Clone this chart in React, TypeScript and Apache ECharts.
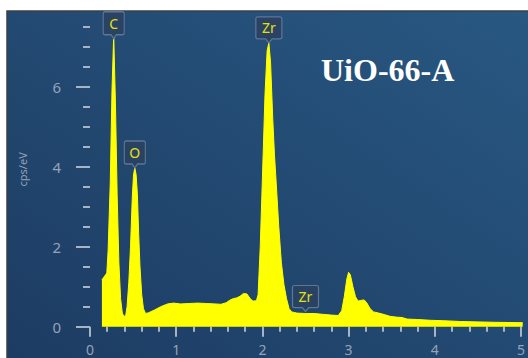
import React, { useEffect, useRef } from "react";
import * as echarts from "echarts";

// Spectrum: energy (keV) and count rate (cps/eV)
const energy: number[] = [
  0.138, 0.195, 0.21, 0.235, 0.255, 0.275, 0.295, 0.315, 0.335, 0.355, 0.375, 0.395,
  0.415, 0.43, 0.45, 0.47, 0.49, 0.505, 0.52, 0.535, 0.55, 0.565, 0.58, 0.6, 0.62, 0.645,
  0.68, 0.75, 0.82, 0.9, 0.97, 1.05, 1.15, 1.25, 1.35, 1.45, 1.52, 1.58, 1.62, 1.66, 1.7,
  1.74, 1.78, 1.82, 1.86, 1.89, 1.93, 1.95, 1.975, 2.0, 2.03, 2.055, 2.075, 2.095, 2.12,
  2.14, 2.16, 2.19, 2.22, 2.25, 2.28, 2.31, 2.34, 2.4, 2.5, 2.6, 2.7, 2.8, 2.88, 2.92,
  2.95, 2.98, 3.0, 3.02, 3.05, 3.08, 3.11, 3.15, 3.18, 3.21, 3.25, 3.29, 3.35, 3.42, 3.48,
  3.55, 3.62, 3.68, 3.8, 3.95, 4.1, 4.3, 4.5, 4.7, 5.02,
];
const counts: number[] = [
  1.17, 1.34, 1.9, 3.6, 5.9, 7.3, 5.6, 3.3, 1.6, 0.7, 0.34, 0.25,
  0.3, 0.5, 1.1, 2.0, 3.2, 3.8, 3.97, 3.8, 3.3, 2.3, 1.5, 0.8, 0.45, 0.33,
  0.35, 0.42, 0.5, 0.57, 0.59, 0.57, 0.58, 0.59, 0.58, 0.57, 0.56, 0.6, 0.66, 0.7, 0.72,
  0.76, 0.83, 0.82, 0.7, 0.64, 0.65, 0.8, 2.0, 3.7, 5.8, 6.9, 7.1, 6.6, 5.2,
  4.3, 3.6, 2.5, 1.6, 1.05, 0.7, 0.45, 0.37, 0.34, 0.33, 0.33, 0.31, 0.29, 0.28, 0.4,
  0.75, 1.2, 1.36, 1.3, 1.0, 0.75, 0.64, 0.66, 0.67, 0.6, 0.45, 0.37, 0.34, 0.3, 0.26,
  0.24, 0.23, 0.19, 0.18, 0.16, 0.15, 0.13, 0.12, 0.11, 0.1,
];

// Element markers: name, energy, height of the marker tip
const peakNames: string[] = ["C", "O", "Zr", "Zr"];
const peakEnergy: number[] = [0.275, 0.52, 2.075, 2.5];
const peakHeight: number[] = [7.2, 3.97, 7.1, 0.38];

const xMajorTicks: number[] = [0, 1, 2, 3, 4, 5];
const xMinorTicks: number[] = [
  0.2, 0.4, 0.6, 0.8, 1.2, 1.4, 1.6, 1.8, 2.2, 2.4, 2.6, 2.8,
  3.2, 3.4, 3.6, 3.8, 4.2, 4.4, 4.6, 4.8,
];
const yMajorTicks: number[] = [0, 2, 4, 6];
const yMinorTicks: number[] = [0.5, 1, 1.5, 2.5, 3, 3.5, 4.5, 5, 5.5, 6.5, 7, 7.5];

const TITLE = "UiO-66-A";
const Y_NAME = "cps/eV";

const tickColor = "#a6b4c6";
const labelColor = "#93a3b9";
const sansFont = "'Noto Sans', 'DejaVu Sans', sans-serif";
const calloutPath =
  "path://M2,0 H22 Q24,0 24,2 V21 Q24,23 22,23 H15 L12,27 L9,23 H2 Q0,23 0,21 V2 Q0,0 2,0 Z";

export default function App() {
  const ref = useRef<HTMLDivElement>(null);

  useEffect(() => {
    if (!ref.current) return;
    const chart = echarts.init(ref.current, null, { renderer: "svg" });

    const spectrum = energy.map((e, i) => [e, counts[i]]);
    const markers = peakNames.map((n, i) => ({
      name: n,
      coord: [peakEnergy[i], peakHeight[i]],
      symbolSize: n.length > 1 ? [26, 26] : [21, 27],
    }));

    const xBase = {
      type: "value" as const,
      min: 0,
      max: 5.02,
      position: "bottom" as const,
      offset: 3,
      axisLine: { show: false },
      splitLine: { show: false },
    };
    const yBase = {
      type: "value" as const,
      min: 0,
      max: 7.87,
      position: "left" as const,
      offset: 12,
      axisLine: { show: false },
      splitLine: { show: false },
    };

    chart.setOption({
      animation: false,
      graphic: [
        {
          type: "rect",
          z: -10,
          silent: true,
          shape: { x: 7, y: 11, width: 530, height: 360 },
          style: {
            fill: new echarts.graphic.LinearGradient(0, 1, 1, 0, [
              { offset: 0, color: "#1d3b62" },
              { offset: 1, color: "#285882" },
            ]),
            stroke: "#3b3f45",
            lineWidth: 1.5,
          },
        },
      ],
      title: {
        text: TITLE,
        left: 321,
        top: 54,
        padding: 0,
        textStyle: {
          fontFamily: "'Liberation Serif', 'Times New Roman', serif",
          fontWeight: "bold",
          fontSize: 32,
          color: "#ffffff",
        },
      },
      grid: { left: 90, right: 0, top: 12, bottom: 31.3, containLabel: false },
      xAxis: [
        {
          ...xBase,
          axisTick: { show: false },
          axisLabel: {
            customValues: xMajorTicks,
            margin: 13,
            color: labelColor,
            fontSize: 14,
            fontFamily: sansFont,
          },
        },
        {
          ...xBase,
          axisTick: {
            customValues: xMajorTicks,
            length: 10,
            lineStyle: { color: tickColor, width: 2 },
          },
          axisLabel: { show: false },
        },
        {
          ...xBase,
          axisTick: {
            customValues: xMinorTicks,
            length: 5,
            lineStyle: { color: tickColor, width: 2 },
          },
          axisLabel: { show: false },
        },
      ],
      yAxis: [
        {
          ...yBase,
          name: Y_NAME,
          nameLocation: "middle",
          nameGap: 50,
          nameTextStyle: {
            color: labelColor,
            fontSize: 11,
            fontFamily: sansFont,
          },
          axisTick: { show: false },
          axisLabel: {
            customValues: yMajorTicks,
            margin: 17,
            color: labelColor,
            fontSize: 15,
            fontFamily: sansFont,
          },
        },
        {
          ...yBase,
          axisTick: {
            customValues: yMajorTicks,
            length: 14,
            lineStyle: { color: tickColor, width: 2 },
          },
          axisLabel: { show: false },
        },
        {
          ...yBase,
          axisTick: {
            customValues: yMinorTicks,
            length: 7,
            lineStyle: { color: tickColor, width: 2 },
          },
          axisLabel: { show: false },
        },
      ],
      series: [
        {
          type: "line",
          xAxisIndex: 0,
          yAxisIndex: 0,
          data: spectrum,
          showSymbol: false,
          lineStyle: { color: "#ffff00", width: 1 },
          areaStyle: { color: "#ffff00", opacity: 1 },
          itemStyle: { color: "#ffff00" },
          markPoint: {
            symbol: calloutPath,
            symbolOffset: [0, "-50%"],
            itemStyle: {
              color: "rgba(42, 66, 98, 0.97)",
              borderColor: "#5e7794",
              borderWidth: 1.2,
            },
            label: {
              show: true,
              position: "inside",
              offset: [0, -2],
              formatter: "{b}",
              color: "#e4e010",
              fontSize: 14,
              fontFamily: sansFont,
            },
            data: markers,
          },
        },
      ],
    });

    return () => chart.dispose();
  }, []);

  return (
    <div
      ref={ref}
      style={{ position: "fixed", left: 0, top: 0, width: 528, height: 358, background: "#ffffff" }}
    />
  );
}
